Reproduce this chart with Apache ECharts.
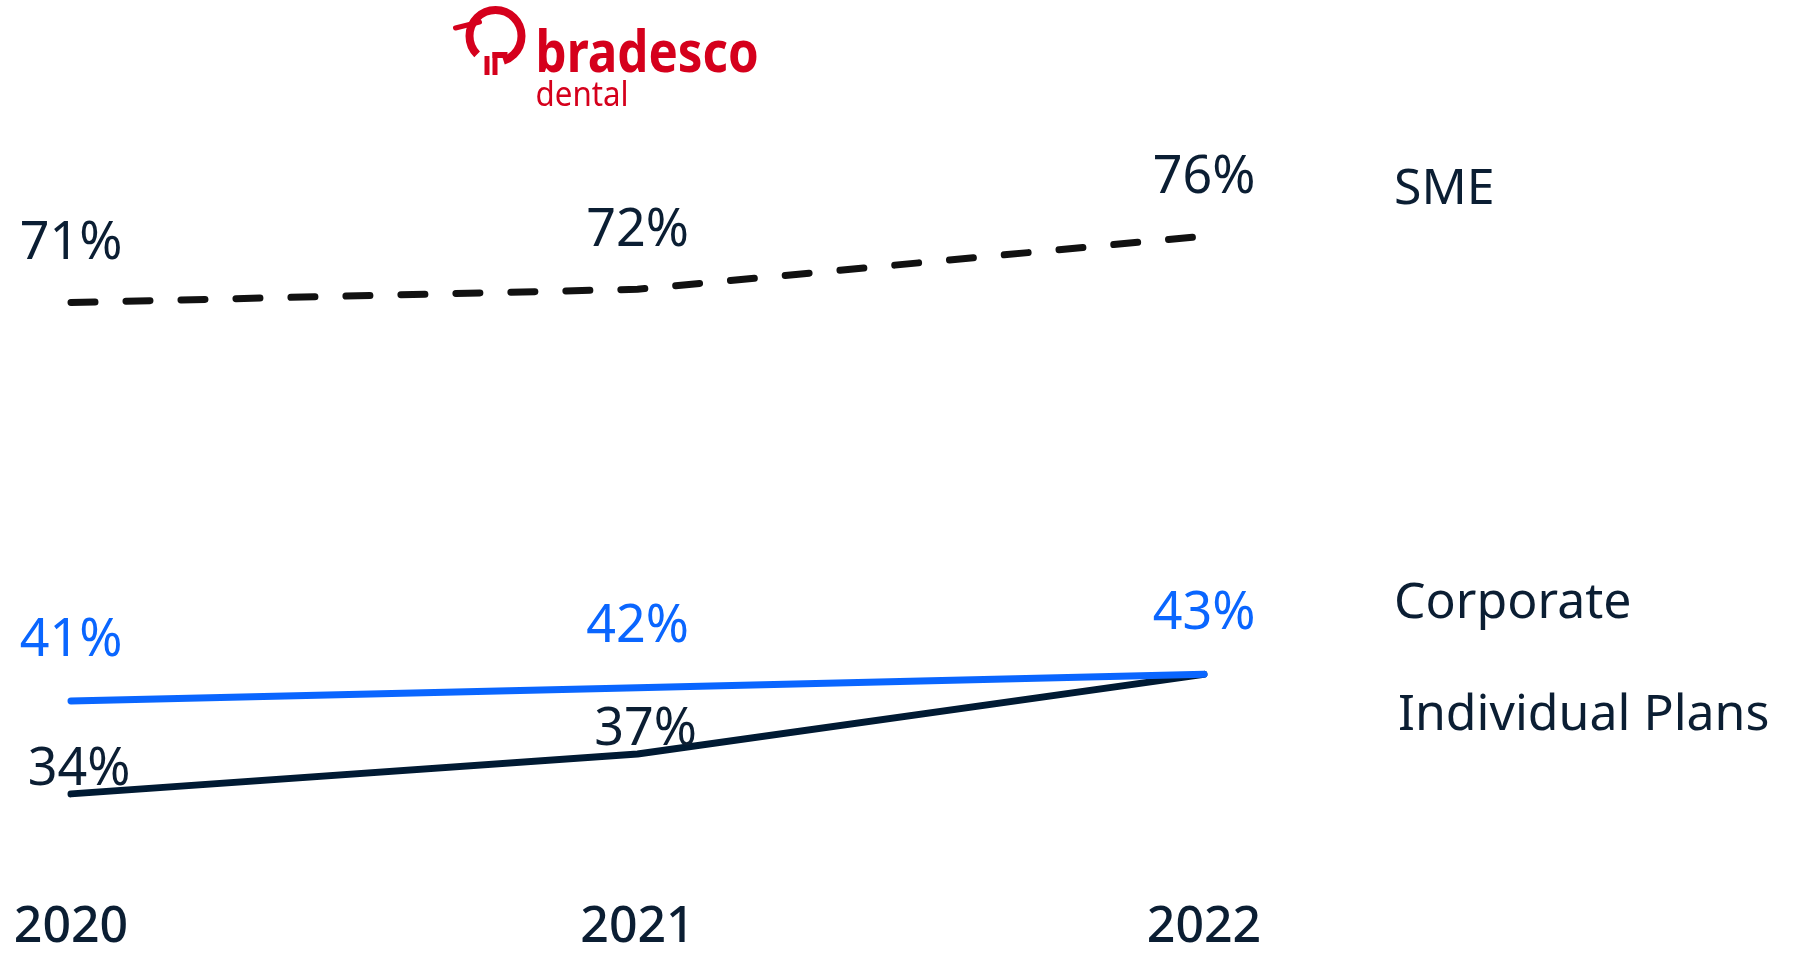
<!DOCTYPE html>
<html>
<head>
<meta charset="utf-8">
<script src="https://cdn.jsdelivr.net/npm/echarts@6/dist/echarts.min.js"></script>
<style>
  html, body { margin: 0; padding: 0; background: #fff; }
  #chart { width: 1807px; height: 953px; }
</style>
</head>
<body>
<div id="chart"></div>
<script>
// data
const years = ['2020', '2021', '2022']
const sme = [71, 72, 76]
const corporate = [41, 42, 43]
const individual = [34, 37, 43]

const navy = '#0b1e33'
const blue = '#0a66ff'
const red = '#d5001c'
const font = 'Noto Sans'

const chart = echarts.init(document.getElementById('chart'))

// value label shared by the three lines
function valueLabel(color, distance, offset) {
  return {
    show: true,
    position: 'top',
    distance: distance,
    offset: offset || [0, 0],
    formatter: '{c}%',
    color: color,
    fontFamily: font,
    fontSize: 52
  }
}

function nameLabel(offset) {
  return {
    show: true,
    formatter: '{a}',
    distance: 0,
    offset: offset,
    align: 'left',
    color: navy,
    fontFamily: font,
    fontSize: 50
  }
}

// the 2022 point of Individual Plans has no value label (it sits on Corporate's)
const individualData = individual.map((v, i) =>
  i === individual.length - 1 ? { value: v, label: { show: false } } : v
)

const option = {
  animation: false,
  grid: { left: 71, right: 603, top: 183, bottom: 105 },
  xAxis: {
    type: 'category',
    data: years,
    boundaryGap: false,
    axisLine: { show: false },
    axisTick: { show: false },
    axisLabel: {
      margin: 56,
      color: navy,
      fontFamily: font,
      fontSize: 50,
      fontWeight: 500
    }
  },
  yAxis: {
    type: 'value',
    min: 30,
    max: 80,
    show: false,
    splitLine: { show: false }
  },
  series: [
    {
      name: 'SME',
      type: 'line',
      data: sme,
      symbol: 'circle',
      symbolSize: 0,
      showAllSymbol: true,
      lineStyle: { color: '#111', width: 7, type: [24, 31], cap: 'round' },
      label: valueLabel(navy, 32),
      endLabel: nameLabel([190, -46])
    },
    {
      name: 'Individual Plans',
      type: 'line',
      data: individualData,
      symbol: 'circle',
      symbolSize: 0,
      showAllSymbol: true,
      z: 2,
      lineStyle: { color: '#001a33', width: 7, cap: 'round' },
      label: valueLabel(navy, 2, [8, 4]),
      endLabel: nameLabel([194, 41])
    },
    {
      name: 'Corporate',
      type: 'line',
      data: corporate,
      symbol: 'circle',
      symbolSize: 0,
      showAllSymbol: true,
      z: 3,
      lineStyle: { color: blue, width: 7, cap: 'round' },
      label: valueLabel(blue, 34),
      endLabel: nameLabel([190, -71])
    }
  ],
  graphic: [
    // bradesco dental logo
    {
      type: 'group',
      left: 453,
      top: 6,
      children: [
        {
          type: 'arc',
          shape: { cx: 40, cy: 34, r: 26, startAngle: Math.PI * 0.75, endAngle: Math.PI * 0.4, clockwise: true },
          style: { stroke: red, lineWidth: 8, fill: null }
        },
        {
          type: 'line',
          shape: { x1: 0, y1: 26, x2: 24, y2: 20 },
          style: { stroke: red, lineWidth: 5, lineCap: 'round' }
        },
        { type: 'rect', shape: { x: 29, y: 54, width: 5, height: 19 }, style: { fill: red } },
        { type: 'rect', shape: { x: 37, y: 50, width: 5, height: 23 }, style: { fill: red } },
        { type: 'rect', shape: { x: 37, y: 50, width: 15, height: 6 }, style: { fill: red } },
        {
          type: 'text',
          x: 80,
          y: 24,
          scaleX: 0.85,
          style: { text: 'bradesco', fill: red, font: 'bold 58px "Noto Sans"' }
        },
        {
          type: 'text',
          x: 80,
          y: 77,
          scaleX: 0.92,
          style: { text: 'dental', fill: red, font: '34px "Noto Sans"' }
        }
      ]
    }
  ]
}

chart.setOption(option)
</script>
</body>
</html>
